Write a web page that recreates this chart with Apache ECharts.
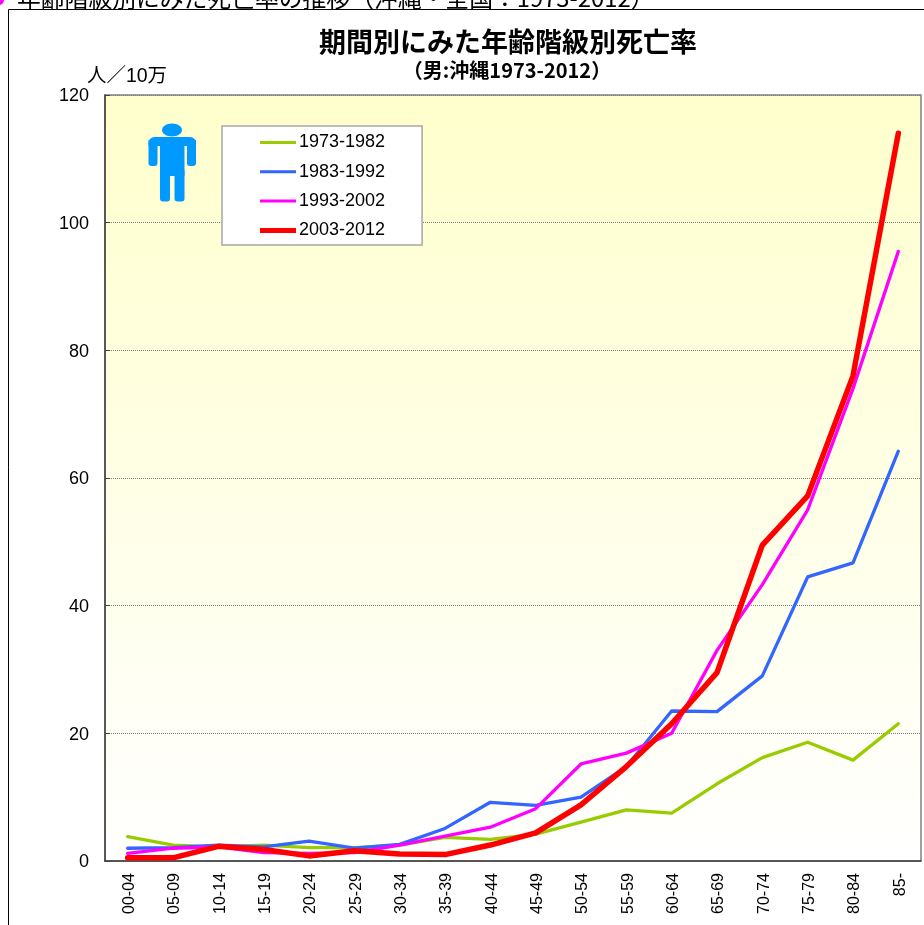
<!DOCTYPE html>
<html><head><meta charset="utf-8">
<style>html,body{margin:0;padding:0;background:#fff;overflow:hidden}#c{width:924px;height:925px}</style>
<script src="https://cdn.jsdelivr.net/npm/echarts@6/dist/echarts.min.js"></script>
</head><body><div id="c"></div>
<script>
const categories = ['00-04','05-09','10-14','15-19','20-24','25-29','30-34','35-39','40-44','45-49','50-54','55-59','60-64','65-69','70-74','75-79','80-84','85-'];
const s1973 = [3.8,2.5,2.2,2.5,2.1,2.1,2.5,3.7,3.4,4.2,6.1,8.0,7.5,12.1,16.2,18.6,15.8,21.5];
const s1983 = [2.0,2.1,2.5,2.2,3.1,2.0,2.6,5.1,9.2,8.7,10.0,14.8,23.5,23.4,29.0,44.5,46.7,64.2];
const s1993 = [1.2,2.0,2.2,1.3,1.2,1.3,2.5,3.9,5.3,8.2,15.2,16.9,20.0,33.0,43.3,55.0,74.0,95.5];
const s2003 = [0.5,0.5,2.3,1.8,0.8,1.6,1.1,1.0,2.5,4.4,8.8,14.8,21.5,29.5,49.5,57.2,76.0,114.0];
const seriesNames = ['1973-1982','1983-1992','1993-2002','2003-2012'];
const titleText = '期間別にみた年齢階級別死亡率';
const subText = '（男:沖縄1973-2012）';
const headText = '年齢階級別にみた死亡率の推移（沖縄・全国：1973-2012）';
const unitText = '人／10万';

const JP = '"Noto Sans CJK JP"', LAT = '"Liberation Sans","Noto Sans CJK JP"';
const chart = echarts.init(document.getElementById('c'), null, {renderer:'canvas'});
const line = (name, data, color, width) => ({
  name, type:'line', data, symbol:'none', showSymbol:false, smooth:false, animation:false,
  lineStyle:{color, width, cap:'round', join:'round'}, itemStyle:{color}
});
const thinKey = 'path://M0 0H36Z M0 5.5H36V8.5H0Z M0 14H36Z';
const thickKey = 'path://M0 0H36Z M0 4.5H36V9.5H0Z M0 14H36Z';
const icon = '#0099ff';
const iconPart = (shape, type='rect') => ({type, z:20, shape, style:{fill:icon}});
chart.setOption({
  animation:false,
  backgroundColor:'#fff',
  title:[
    {text:titleText, left:503, top:23, textAlign:'center', textStyle:{fontFamily:JP, fontSize:27, fontWeight:'bold', color:'#000'}},
    {text:subText, left:502, top:55, textAlign:'center', textStyle:{fontFamily:JP, fontSize:20, fontWeight:'bold', color:'#000'}}
  ],
  legend:{
    data:seriesNames.map((name,i)=>({name, icon:i===3?thickKey:thinKey})),
    orient:'vertical', left:222, top:126,
    itemWidth:36, itemHeight:14, itemGap:11.3,
    padding:[7.5,37,5.5,38],
    backgroundColor:'#fff', borderColor:'#a6a6a6', borderWidth:1.5, borderRadius:0,
    itemStyle:{borderWidth:0},
    textStyle:{fontFamily:LAT, fontSize:18, color:'#000', padding:[0,0,0,-2]},
    z:10
  },
  grid:{left:105, right:3, top:95, bottom:64, show:true, borderColor:'#808080', borderWidth:1.5,
    backgroundColor:new echarts.graphic.LinearGradient(0,0,0,1,[{offset:0,color:'#ffffcc'},{offset:1,color:'#ffffff'}])},
  xAxis:{type:'category', data:categories, boundaryGap:true,
    axisLine:{lineStyle:{color:'#404040', width:1.5}},
    axisTick:{inside:true, length:5, lineStyle:{color:'#404040', width:1}},
    axisLabel:{rotate:90, interval:0, margin:12, fontFamily:LAT, fontSize:16, color:'#000', verticalAlign:'top', lineHeight:4}},
  yAxis:{type:'value', min:0, max:120, interval:20,
    name:unitText, nameLocation:'end', nameGap:9,
    nameTextStyle:{fontFamily:LAT, fontSize:19.5, color:'#000', align:'center', padding:[0,0,0,44]},
    axisLine:{show:true, lineStyle:{color:'#404040', width:1.5}},
    axisTick:{show:true, inside:true, length:5, lineStyle:{color:'#404040', width:1}},
    axisLabel:{margin:16, fontFamily:LAT, fontSize:18, color:'#000', verticalAlign:'top', lineHeight:3},
    splitLine:{show:true, lineStyle:{color:'#808080', width:1, type:'dotted'}}},
  series:[
    line(seriesNames[0], s1973, '#99cc00', 3.3),
    line(seriesNames[1], s1983, '#3366ff', 3.3),
    line(seriesNames[2], s1993, '#ff00ff', 3.3),
    line(seriesNames[3], s2003, '#ff0000', 5.5)
  ],
  graphic:[
    {type:'text', z:-3, left:17, top:-14, style:{text:headText, font:'23.8px '+JP, fill:'#000'}},
    {type:'circle', z:-3, shape:{cx:-1,cy:0,r:5}, style:{fill:'#ff00ff'}},
    {type:'rect', z:-2, shape:{x:8.5,y:9.5,width:1000,height:1000}, style:{fill:'#fff',stroke:'#000',lineWidth:1}},
    iconPart({cx:172,cy:130,rx:10,ry:6.5},'ellipse'),
    iconPart({x:148.5,y:137,width:47.5,height:9,r:[6,6,0,0]}),
    iconPart({x:148.5,y:140,width:9,height:26,r:[0,0,3,3]}),
    iconPart({x:187,y:140,width:9,height:26,r:[0,0,3,3]}),
    iconPart({x:160,y:140,width:24.5,height:36}),
    iconPart({x:160,y:170,width:10,height:31.5,r:[0,0,3,3]}),
    iconPart({x:174.5,y:170,width:10,height:31.5,r:[0,0,3,3]})
  ]
});
</script></body></html>
